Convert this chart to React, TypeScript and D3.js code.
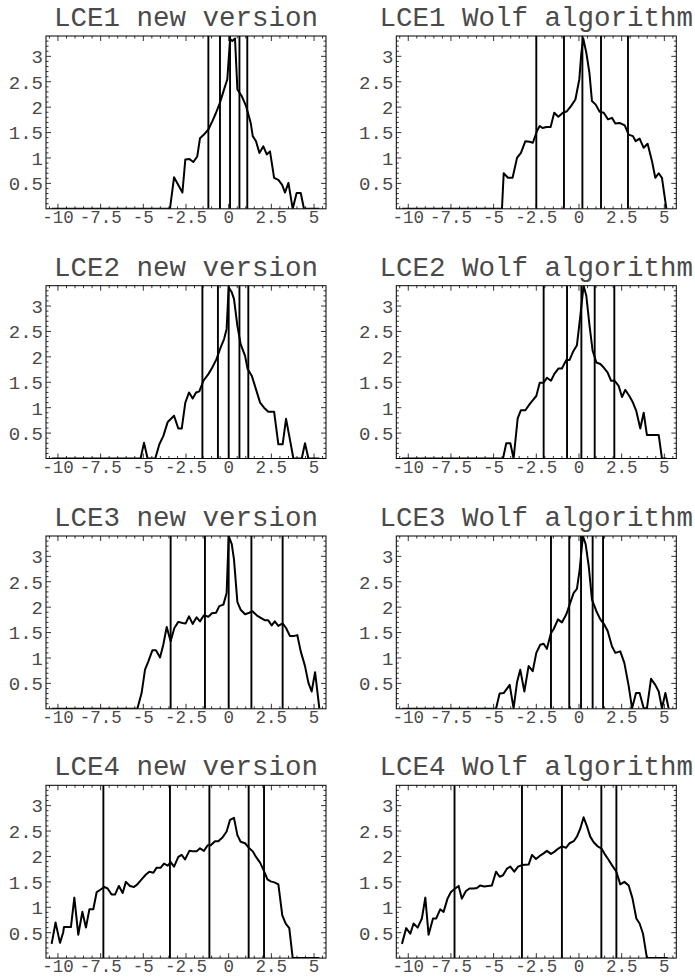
import React from "react";
import * as d3 from "d3";

// ---------- data ----------
const xTicks = [-10, -7.5, -5, -2.5, 0, 2.5, 5];
const xTickLabels = ["-10", "-7.5", "-5", "-2.5", "0", "2.5", "5"];
const yTicks = [0.5, 1, 1.5, 2, 2.5, 3];
const yTickLabels = ["0.5", "1", "1.5", "2", "2.5", "3"];

const titles = [
  "LCE1 new version", "LCE1 Wolf algorithm",
  "LCE2 new version", "LCE2 Wolf algorithm",
  "LCE3 new version", "LCE3 Wolf algorithm",
  "LCE4 new version", "LCE4 Wolf algorithm",
];

const lce1New: [number, number][] = [
  [-10.37, 0], [-3.44, 0], [-3.2, 0.62], [-2.71, 0.32], [-2.54, 0.97], [-2.3, 0.98], [-2.07, 0.92],
  [-1.84, 1.03], [-1.68, 1.39], [-1.45, 1.46], [-1.19, 1.56], [-0.96, 1.72], [-0.74, 1.89], [-0.51, 2.09],
  [-0.27, 2.35], [-0.08, 2.55], [0.08, 3.34], [0.21, 3.3], [0.37, 3.35], [0.51, 2.35], [0.76, 2.22],
  [1.02, 2.02], [1.29, 1.69], [1.41, 1.43], [1.6, 1.33], [1.8, 1.1], [2.03, 1.23], [2.23, 1.07],
  [2.42, 1.13], [2.66, 0.61], [2.91, 0.57], [3.13, 0.47], [3.3, 0.32], [3.5, 0.51], [3.75, 0],
  [3.98, 0.31], [4.22, 0.31], [4.41, 0], [5.31, 0],
];
const lce1NewLines = [-1.19, -0.51, 0.08, 0.63, 1.09];

const lce1Wolf: [number, number][] = [
  [-10.37, 0], [-4.51, 0], [-4.41, 0.7], [-4.16, 0.61], [-3.89, 0.61], [-3.63, 1.0], [-3.4, 1.1],
  [-3.14, 1.33], [-2.89, 1.32], [-2.7, 1.3], [-2.46, 1.53], [-2.3, 1.63], [-2.13, 1.59], [-1.91, 1.61],
  [-1.66, 1.61], [-1.45, 1.89], [-1.21, 1.81], [-0.94, 1.89], [-0.7, 1.92], [-0.47, 2.02], [-0.21, 2.15],
  [0.02, 2.55], [0.14, 3.07], [0.25, 3.35], [0.43, 3.07], [0.61, 2.68], [0.76, 2.12], [0.98, 2.05],
  [1.21, 1.91], [1.45, 1.89], [1.7, 1.76], [1.93, 1.79], [2.13, 1.68], [2.38, 1.69], [2.68, 1.64],
  [2.91, 1.46], [3.16, 1.43], [3.32, 1.33], [3.55, 1.38], [3.79, 1.2], [4.02, 1.28], [4.28, 0.93],
  [4.47, 0.61], [4.67, 0.7], [4.86, 0.61], [5.12, 0],
];
const lce1WolfLines = [-2.5, -0.88, 0.2, 1.29, 2.87];

const lce2New: [number, number][] = [
  [-10.37, 0], [-5.16, 0], [-4.96, 0.31], [-4.75, 0], [-4.3, 0], [-4.06, 0.28], [-3.83, 0.44],
  [-3.57, 0.72], [-3.2, 0.84], [-2.95, 0.59], [-2.75, 0.59], [-2.54, 1.1], [-2.32, 1.3], [-2.11, 1.18],
  [-1.91, 1.3], [-1.72, 1.32], [-1.48, 1.53], [-1.19, 1.66], [-0.96, 1.79], [-0.72, 1.95], [-0.51, 2.15],
  [-0.27, 2.35], [-0.12, 2.55], [0, 3.37], [0.18, 3.27], [0.31, 3.14], [0.51, 2.61], [0.7, 2.25],
  [0.96, 2.02], [1.11, 1.76], [1.35, 1.63], [1.6, 1.36], [1.84, 1.1], [2.07, 1.0], [2.32, 0.92],
  [2.66, 0.92], [2.91, 0.28], [3.16, 0.28], [3.36, 0.78], [3.55, 0.44], [3.79, 0], [4.28, 0],
  [4.47, 0.3], [4.67, 0], [5.31, 0],
];
const lce2NewLines = [-1.54, -0.63, 0.0, 0.63, 1.15];

const lce2Wolf: [number, number][] = [
  [-10.37, 0], [-4.45, 0], [-4.26, 0.3], [-4.02, 0.3], [-3.83, 0], [-3.59, 0.79], [-3.4, 0.95],
  [-3.14, 0.95], [-2.89, 1.07], [-2.7, 1.15], [-2.5, 1.23], [-2.3, 1.49], [-2.07, 1.49], [-1.88, 1.59],
  [-1.64, 1.53], [-1.45, 1.66], [-1.21, 1.77], [-1.0, 1.77], [-0.74, 1.94], [-0.55, 1.94], [-0.35, 2.1],
  [-0.12, 2.23], [0.08, 2.81], [0.27, 3.4], [0.43, 3.2], [0.62, 2.61], [0.8, 2.12], [1.02, 1.89],
  [1.25, 1.86], [1.45, 1.79], [1.68, 1.69], [1.88, 1.53], [2.09, 1.53], [2.32, 1.43], [2.52, 1.21],
  [2.71, 1.35], [2.95, 1.23], [3.16, 1.1], [3.36, 0.93], [3.59, 0.59], [3.79, 0.9], [3.98, 0.46],
  [4.22, 0.46], [4.67, 0.46], [4.86, 0], [5.12, 0],
];
const lce2WolfLines = [-2.07, -0.7, 0.14, 0.92, 2.07];

const lce3New: [number, number][] = [
  [-10.37, 0], [-5.35, 0], [-5.1, 0.31], [-4.9, 0.77], [-4.71, 0.93], [-4.47, 1.15], [-4.26, 1.15],
  [-4.02, 1.01], [-3.83, 1.26], [-3.63, 1.61], [-3.4, 1.33], [-3.18, 1.59], [-2.95, 1.71], [-2.7, 1.69],
  [-2.52, 1.68], [-2.32, 1.82], [-2.11, 1.67], [-1.88, 1.8], [-1.68, 1.72], [-1.45, 1.84], [-1.19, 1.81],
  [-0.98, 1.88], [-0.74, 1.89], [-0.55, 2.02], [-0.31, 2.05], [-0.12, 2.28], [0.0, 3.4], [0.18, 3.24],
  [0.31, 2.94], [0.51, 2.1], [0.7, 1.95], [0.96, 1.86], [1.21, 1.89], [1.39, 1.92], [1.64, 1.84],
  [1.88, 1.79], [2.13, 1.74], [2.32, 1.74], [2.52, 1.64], [2.7, 1.72], [2.91, 1.63], [3.16, 1.68],
  [3.36, 1.59], [3.59, 1.43], [3.79, 1.43], [4.02, 1.45], [4.22, 1.13], [4.47, 0.84], [4.67, 0.51],
  [4.86, 0.34], [5.06, 0.72], [5.31, 0.01],
];
const lce3NewLines = [-3.4, -1.39, 0.0, 1.33, 3.16];

const lce3Wolf: [number, number][] = [
  [-10.37, 0], [-4.86, 0], [-4.65, 0.3], [-4.41, 0.31], [-4.06, 0.47], [-3.83, 0.01], [-3.63, 0.52],
  [-3.44, 0.77], [-3.2, 0.34], [-2.95, 0.84], [-2.71, 0.74], [-2.5, 1.1], [-2.27, 1.26], [-2.07, 1.28],
  [-1.88, 1.18], [-1.64, 1.49], [-1.48, 1.57], [-1.23, 1.76], [-1.0, 1.7], [-0.74, 1.86], [-0.55, 2.05],
  [-0.31, 2.28], [-0.12, 2.36], [0.04, 2.74], [0.23, 3.4], [0.39, 3.24], [0.57, 2.81], [0.76, 2.15],
  [1.02, 1.92], [1.25, 1.76], [1.48, 1.66], [1.68, 1.53], [1.93, 1.23], [2.13, 1.1], [2.42, 1.13],
  [2.66, 0.9], [2.91, 0.45], [3.11, 0.01], [3.34, 0.31], [3.55, 0.31], [3.79, 0.01], [3.98, 0.01],
  [4.22, 0.59], [4.47, 0.47], [4.67, 0.34], [4.86, 0.01], [5.06, 0.31], [5.25, 0.01],
];
const lce3WolfLines = [-1.64, -0.57, 0.12, 0.8, 1.41];

const lce4New: [number, number][] = [
  [-10.37, 0.28], [-10.14, 0.7], [-9.88, 0.3], [-9.69, 0.51], [-9.65, 0.61], [-9.39, 0.61], [-9.24, 0.61],
  [-9.04, 1.19], [-8.81, 0.46], [-8.57, 0.91], [-8.36, 0.6], [-8.16, 0.96], [-7.93, 0.96], [-7.73, 1.3],
  [-7.54, 1.34], [-7.29, 1.4], [-7.09, 1.37], [-6.86, 1.25], [-6.66, 1.25], [-6.43, 1.42], [-6.21, 1.28],
  [-6.02, 1.5], [-5.78, 1.42], [-5.55, 1.4], [-5.35, 1.45], [-5.1, 1.55], [-4.86, 1.64], [-4.65, 1.7],
  [-4.41, 1.68], [-4.22, 1.78], [-3.98, 1.78], [-3.79, 1.86], [-3.57, 1.82], [-3.4, 1.89], [-3.2, 1.8],
  [-2.95, 1.99], [-2.75, 2.03], [-2.56, 1.94], [-2.3, 2.11], [-2.07, 2.1], [-1.88, 2.1], [-1.68, 2.16],
  [-1.45, 2.11], [-1.23, 2.22], [-1.05, 2.22], [-0.8, 2.3], [-0.61, 2.3], [-0.35, 2.38], [-0.12, 2.49],
  [0.08, 2.72], [0.31, 2.76], [0.51, 2.42], [0.7, 2.29], [0.96, 2.26], [1.21, 2.16], [1.41, 2.1],
  [1.6, 1.99], [1.84, 1.88], [2.07, 1.71], [2.27, 1.55], [2.46, 1.51], [2.68, 1.49], [2.91, 1.45],
  [3.14, 0.84], [3.34, 0.68], [3.55, 0.59], [3.75, 0], [5.31, 0],
];
const lce4NewLines = [-7.34, -3.44, -1.13, 1.17, 2.07];

const lce4Wolf: [number, number][] = [
  [-10.37, 0.28], [-10.12, 0.59], [-9.88, 0.48], [-9.69, 0.68], [-9.45, 0.6], [-9.2, 0.78], [-9.0, 1.19],
  [-8.81, 0.46], [-8.55, 0.78], [-8.36, 0.78], [-8.13, 0.96], [-7.93, 0.91], [-7.7, 1.17], [-7.5, 1.3],
  [-7.29, 1.36], [-7.05, 1.42], [-6.86, 1.17], [-6.62, 1.32], [-6.41, 1.37], [-6.17, 1.37], [-5.98, 1.38],
  [-5.78, 1.43], [-5.55, 1.41], [-5.33, 1.42], [-5.1, 1.43], [-4.86, 1.7], [-4.65, 1.6], [-4.45, 1.63],
  [-4.22, 1.76], [-4.02, 1.8], [-3.79, 1.7], [-3.57, 1.8], [-3.34, 1.83], [-2.95, 1.84], [-2.75, 2.03],
  [-2.52, 1.95], [-2.3, 2.01], [-2.07, 2.06], [-1.88, 2.11], [-1.64, 2.05], [-1.45, 2.09], [-1.19, 2.16],
  [-1.0, 2.2], [-0.76, 2.17], [-0.55, 2.26], [-0.31, 2.3], [-0.12, 2.39], [0.08, 2.55], [0.27, 2.77],
  [0.47, 2.59], [0.66, 2.39], [0.86, 2.28], [1.09, 2.2], [1.31, 2.16], [1.54, 2.03], [1.74, 1.93],
  [1.93, 1.83], [2.19, 1.7], [2.42, 1.45], [2.66, 1.5], [2.91, 1.43], [3.13, 1.18], [3.36, 0.78],
  [3.55, 0.68], [3.75, 0.48], [3.98, 0], [5.2, 0],
];
const lce4WolfLines = [-7.29, -3.34, -1.0, 1.31, 2.19];

const curves = [lce1New, lce1Wolf, lce2New, lce2Wolf, lce3New, lce3Wolf, lce4New, lce4Wolf];
const vlines = [
  lce1NewLines, lce1WolfLines, lce2NewLines, lce2WolfLines,
  lce3NewLines, lce3WolfLines, lce4NewLines, lce4WolfLines,
];

// ---------- layout ----------
const W = 695;
const H = 977;
const colLeft = [46, 396.3];
const rowTop = [36, 285.7, 536, 785.3];
const PW = 280;
const PH = 172.8;
const FONT = "'Liberation Mono', 'DejaVu Sans Mono', monospace";
const TEXT = "#4a4a4a";

const xMinor = d3.range(-10.5, 5.51, 0.5);
const yMinor = d3.range(0.1, 3.4, 0.1);

function Panel({ idx }: { idx: number }) {
  const col = idx % 2;
  const row = Math.floor(idx / 2);
  const left = colLeft[col];
  const top = rowTop[row];
  const x = d3.scaleLinear().domain([-10.7, 5.7]).range([left, left + PW]);
  const y = d3.scaleLinear().domain([0, 3.4]).range([top + PH, top]);
  const line = d3
    .line<[number, number]>()
    .x((d) => x(d[0]))
    .y((d) => y(d[1]));
  const clipId = `clip${idx}`;
  const bottom = top + PH;
  const right = left + PW;
  const isMajorX = (v: number) => xTicks.some((t) => Math.abs(t - v) < 1e-6);
  const isMajorY = (v: number) => yTicks.some((t) => Math.abs(t - v) < 1e-6);
  return (
    <g>
      <defs>
        <clipPath id={clipId}>
          <rect x={left} y={top} width={PW} height={PH} />
        </clipPath>
      </defs>
      <text
        x={left + PW / 2}
        y={top - 10}
        textAnchor="middle"
        fontFamily={FONT}
        fontSize={27.5}
        fill={TEXT}
      >
        {titles[idx]}
      </text>
      <g clipPath={`url(#${clipId})`}>
        {vlines[idx].map((v, i) => (
          <line key={i} x1={x(v)} x2={x(v)} y1={top} y2={bottom} stroke="#000" strokeWidth={1.9} />
        ))}
        <path d={line(curves[idx]) || ""} fill="none" stroke="#000" strokeWidth={2} strokeLinejoin="round" />
      </g>
      {xMinor.map((v, i) => {
        const len = isMajorX(v) ? 5 : 2.5;
        const px = x(v);
        if (px < left || px > right) return null;
        return (
          <g key={"xt" + i}>
            <line x1={px} x2={px} y1={bottom} y2={bottom - len} stroke="#000" strokeWidth={0.8} />
            <line x1={px} x2={px} y1={top} y2={top + len} stroke="#000" strokeWidth={0.8} />
          </g>
        );
      })}
      {yMinor.map((v, i) => {
        const len = isMajorY(Math.round(v * 10) / 10) ? 5 : 2.5;
        const py = y(v);
        return (
          <g key={"yt" + i}>
            <line x1={left} x2={left + len} y1={py} y2={py} stroke="#000" strokeWidth={0.8} />
            <line x1={right} x2={right - len} y1={py} y2={py} stroke="#000" strokeWidth={0.8} />
          </g>
        );
      })}
      <rect x={left} y={top} width={PW} height={PH} fill="none" stroke="#000" strokeWidth={1} />
      {xTicks.map((t, i) => (
        <text
          key={"xl" + i}
          x={x(t)}
          y={bottom + 14}
          textAnchor="middle"
          fontFamily={FONT}
          fontSize={17.5}
          fill={TEXT}
        >
          {xTickLabels[i]}
        </text>
      ))}
      {yTicks.map((t, i) => (
        <text
          key={"yl" + i}
          x={left - 3}
          y={y(t)}
          dy="0.36em"
          textAnchor="end"
          fontFamily={FONT}
          fontSize={19}
          fill={TEXT}
        >
          {yTickLabels[i]}
        </text>
      ))}
    </g>
  );
}

export default function App() {
  return (
    <svg
      width={W}
      height={H}
      viewBox={`0 0 ${W} ${H}`}
      style={{ position: "absolute", left: 0, top: 0, background: "#fff", display: "block" }}
    >
      <rect width={W} height={H} fill="#fff" />
      {titles.map((_, i) => (
        <Panel key={i} idx={i} />
      ))}
    </svg>
  );
}
